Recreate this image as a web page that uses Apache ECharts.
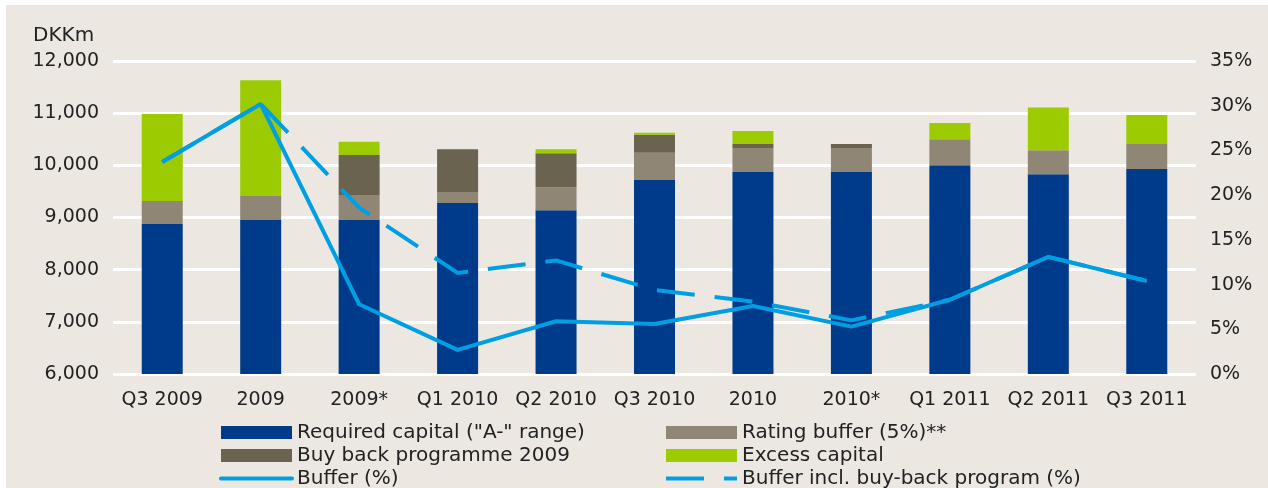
<!DOCTYPE html>
<html lang="en">
<head>
    <meta charset="UTF-8">
    <title>Capital buffer</title>
    <style>
        body {
            margin: 0;
            background: #ffffff;
            overflow: hidden;
        }

        #chart {
            position: absolute;
            left: 6px;
            top: 5px;
            width: 1262px;
            height: 500px;
            background: #ece8e1;
        }
    </style>
    <script src="https://cdn.jsdelivr.net/npm/echarts@6/dist/echarts.min.js"></script>
</head>
<body>
    <div id="chart"></div>

    <script>
        // categories and values
        var categories = ['Q3 2009', '2009', '2009*', 'Q1 2010', 'Q2 2010', 'Q3 2010', '2010', '2010*', 'Q1 2011', 'Q2 2011', 'Q3 2011'];
        var requiredCapital = [8875, 8950, 8950, 9280, 9140, 9720, 9870, 9870, 10000, 9830, 9930];
        var ratingBuffer = [440, 460, 480, 210, 440, 520, 460, 460, 500, 460, 480];
        var buyBack = [0, 0, 770, 820, 650, 345, 80, 80, 0, 0, 0];
        var excessCapital = [1670, 2220, 250, 0, 80, 40, 250, 0, 310, 820, 555];
        var bufferPct = [23.7, 30.2, 7.8, 2.7, 5.9, 5.6, 7.6, 5.3, 8.3, 13.1, 10.4];
        var bufferInclPct = [23.7, 30.2, 18.6, 11.3, 12.7, 9.4, 8.1, 6.0, 8.3, 13.1, 10.4];

        var font = 'DejaVu Sans';
        var textColor = '#222222';

        var myChart = echarts.init(document.getElementById('chart'));

        function barSeries(name, data, color) {
            return {
                name: name,
                type: 'bar',
                stack: 'capital',
                barWidth: 41,
                itemStyle: { color: color },
                data: data
            };
        }

        function lineSeries(name, data, dash) {
            return {
                name: name,
                type: 'line',
                yAxisIndex: 1,
                symbol: 'none',
                lineStyle: { color: '#009fe3', width: 4, type: dash, cap: 'butt' },
                itemStyle: { color: '#009fe3' },
                data: data,
                z: 5
            };
        }

        var legendText = { fontFamily: font, fontSize: 20, color: textColor, lineHeight: 23 };
        // line items: hide the marker, keep a thick line
        var noMarker = { opacity: 0 };

        function legendColumn(left, items) {
            return {
                orient: 'vertical',
                left: left,
                top: 416,
                padding: 0,
                itemGap: 0,
                itemWidth: 71,
                itemHeight: 13,
                itemStyle: { borderWidth: 0 },
                textStyle: legendText,
                data: items
            };
        }

        var option = {
            animation: false,
            title: {
                text: 'DKKm',
                left: 27,
                top: 21,
                padding: 0,
                textStyle: { fontFamily: font, fontSize: 20, fontWeight: 'normal', color: textColor }
            },
            grid: { left: 107, right: 72, top: 56, bottom: 131 },
            legend: [
                legendColumn(213, [
                    { name: 'Required capital ("A-" range)', icon: 'rect' },
                    { name: 'Buy back programme 2009', icon: 'rect' },
                    { name: 'Buffer (%)', itemStyle: noMarker, lineStyle: { width: 4, cap: 'round' } }
                ]),
                legendColumn(658, [
                    { name: 'Rating buffer (5%)**', icon: 'rect' },
                    { name: 'Excess capital', icon: 'rect' },
                    { name: 'Buffer incl. buy-back program (%)', itemStyle: noMarker, lineStyle: { width: 4 } }
                ])
            ],
            xAxis: {
                type: 'category',
                data: categories,
                axisLine: { show: false },
                axisTick: { show: false },
                axisLabel: { fontFamily: font, fontSize: 19, color: textColor, margin: 17, interval: 0 }
            },
            yAxis: [
                {
                    type: 'value',
                    min: 6000,
                    max: 12000,
                    interval: 1000,
                    axisLine: { show: false },
                    axisTick: { show: false },
                    splitLine: { lineStyle: { color: '#ffffff', width: 3 } },
                    axisLabel: {
                        fontFamily: font, fontSize: 19, color: textColor, margin: 14,
                        formatter: function (v) {
                            return String(v).replace(/\B(?=(\d{3})+(?!\d))/g, ',');
                        }
                    }
                },
                {
                    type: 'value',
                    min: 0,
                    max: 35,
                    interval: 5,
                    axisLine: { show: false },
                    axisTick: { show: false },
                    splitLine: { show: false },
                    axisLabel: { fontFamily: font, fontSize: 19, color: textColor, margin: 14, formatter: '{value}%' }
                }
            ],
            series: [
                barSeries('Required capital ("A-" range)', requiredCapital, '#003a8a'),
                barSeries('Rating buffer (5%)**', ratingBuffer, '#8f8675'),
                barSeries('Buy back programme 2009', buyBack, '#6a6350'),
                barSeries('Excess capital', excessCapital, '#9bcb00'),
                lineSeries('Buffer (%)', bufferPct, 'solid'),
                lineSeries('Buffer incl. buy-back program (%)', bufferInclPct, [38, 20])
            ]
        };

        myChart.setOption(option);
    </script>
</body>
</html>
